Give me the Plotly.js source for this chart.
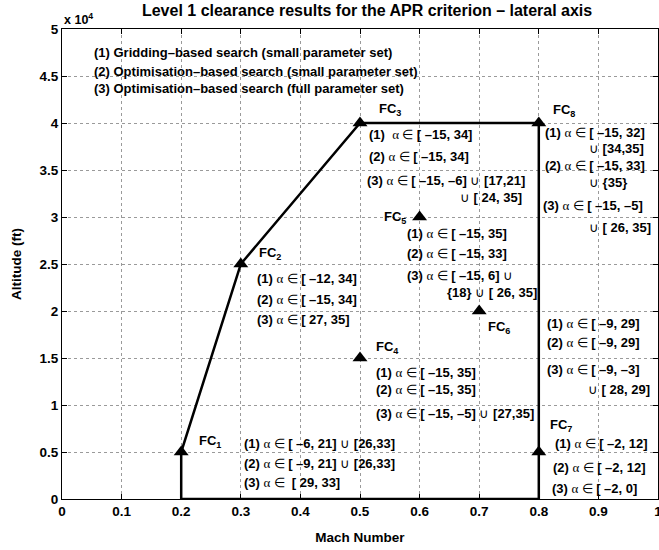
<!DOCTYPE html>
<html>
<head>
<meta charset="utf-8">
<script src="https://cdn.plot.ly/plotly-3.0.1.min.js"></script>
<style>html,body{margin:0;padding:0;background:#fff;}#chart{width:659px;height:550px;}</style>
</head>
<body>
<div id="chart"></div>
<script>
// ---- data ----
const envelopeMach = [0.2, 0.2, 0.3, 0.5, 0.8, 0.8, 0.2];
const envelopeAlt  = [0, 5000, 25000, 40000, 40000, 0, 0];

const fcNames = ['FC1','FC2','FC3','FC4','FC5','FC6','FC7','FC8'];
const fcMach  = [0.2, 0.3, 0.5, 0.5, 0.6, 0.7, 0.8, 0.8];
const fcAlt   = [5000, 25000, 40000, 15000, 30000, 20000, 5000, 40000];

const legendLines = [
  '(1) Gridding\u2013based search (small parameter set)',
  '(2) Optimisation\u2013based search (small parameter set)',
  '(3) Optimisation\u2013based search (full parameter set)'
];

// interval result lines per flight condition ('A' = alpha-in symbol, 'U' = union)
const fc1Lines = ['(1) A [ \u20136, 21] U [26,33]', '(2) A [ \u20139, 21] U [26,33]', '(3) A  [ 29, 33]'];
const fc2Lines = ['(1) A [ \u201312, 34]', '(2) A [ \u201315, 34]', '(3) A [ 27, 35]'];
const fc3Lines = ['(1)  A [ \u201315, 34]', '(2) A [ \u201315, 34]', '(3) A [ \u201315, \u20136] U [17,21]', 'U [ 24, 35]'];
const fc4Lines = ['(1) A [ \u201315, 35]', '(2) A [ \u201315, 35]', '(3) A [ \u201315, \u20135] U [27,35]'];
const fc5Lines = ['(1) A [ \u201315, 35]', '(2) A [ \u201315, 33]', '(3) A [ \u201315, 6] U', '{18} U [ 26, 35]'];
const fc6Lines = ['(1) A [ \u20139, 29]', '(2) A [ \u20139, 29]', '(3) A [ \u20139, \u20133]', 'U [ 28, 29]'];
const fc7Lines = ['(1) A [ \u20132, 12]', '(2) A [ \u20132, 12]', '(3) A [ \u20132, 0]'];
const fc8Lines = ['(1) A [ \u201315, 32]', 'U [34,35]', '(2) A [ \u201315, 33]', 'U {35}', '(3) A [ \u201315, \u20135]', 'U [ 26, 35]'];

const xTicks = [0, 0.1, 0.2, 0.3, 0.4, 0.5, 0.6, 0.7, 0.8, 0.9, 1];
const xTickText = ['0','0.1','0.2','0.3','0.4','0.5','0.6','0.7','0.8','0.9','1'];
const yTicks = [0, 5000, 10000, 15000, 20000, 25000, 30000, 35000, 40000, 45000, 50000];
const yTickText = ['0','0.5','1','1.5','2','2.5','3','3.5','4','4.5','5'];

// ---- formatting helpers ----
const SYM = 'font-weight:normal;font-family:Liberation Serif';
function b(s) { return '<b>' + s + '</b>'; }
function fmt(s) {
  return s.replace('A', '</b><span style="' + SYM + '">\u03b1 \u2208</span><b>')
          .replace(/U/g, '</b><span style="' + SYM + '">\u222a</span><b>');
}
function fcLabel(n) { return b(n.slice(0,2) + '<sub>' + n.slice(2) + '</sub>'); }

const FAM = 'Liberation Sans, Arial, sans-serif';
const FONT = {family: FAM, size: 13, color: '#000'};
const anns = [];
function addText(txt, x, y) {
  anns.push({x: x, y: y, xref: 'x', yref: 'y', text: txt, showarrow: false,
             xanchor: 'left', yanchor: 'middle', font: FONT});
}

// legend block
const legY = [47550, 45530, 43620];
legendLines.forEach((t, i) => addText(b(t), 0.0495, legY[i]));

// FC labels
const fcLabPos = [[0.2257, 6100], [0.328, 26100], [0.5277, 41400], [0.5243, 16100],
                  [0.5377, 29950], [0.7122, 18250], [0.8146, 7800], [0.8213, 41300]];
fcNames.forEach((n, i) => addText(fcLabel(n), fcLabPos[i][0], fcLabPos[i][1]));

// interval blocks: [lines, positions]
const blocks = [
  [fc1Lines, [[0.3012, 5957], [0.3012, 3830], [0.3012, 1809]]],
  [fc2Lines, [[0.323, 23511], [0.323, 21277], [0.323, 19149]]],
  [fc3Lines, [[0.5109, 38830], [0.5109, 36489], [0.5092, 33936], [0.6636, 32128]]],
  [fc4Lines, [[0.5227, 13511], [0.5227, 11702], [0.5227, 9149]]],
  [fc5Lines, [[0.5747, 28298], [0.5747, 26170], [0.5747, 23830], [0.6418, 22021]]],
  [fc6Lines, [[0.8112, 18723], [0.8112, 16702], [0.8112, 13830], [0.88, 11702]]],
  [fc7Lines, [[0.823, 5957], [0.8213, 3404], [0.818, 1170]]],
  [fc8Lines, [[0.8062, 39043], [0.8817, 37340], [0.8062, 35532], [0.8817, 33723], [0.8029, 31277], [0.8817, 28936]]]
];
blocks.forEach(bl => bl[0].forEach((t, i) => addText(b(fmt(t)), bl[1][i][0], bl[1][i][1])));

// x 10^4 multiplier
anns.push({x: 0, y: 1, xref: 'paper', yref: 'paper', xanchor: 'left', yanchor: 'bottom', yshift: 0,
           text: b('x 10<sup>4</sup>'), showarrow: false, font: {family: FAM, size: 12.5, color: '#000'}});

const traces = [
  {x: envelopeMach, y: envelopeAlt, mode: 'lines', line: {color: '#000', width: 2.5}, hoverinfo: 'skip'},
  {x: fcMach, y: fcAlt, mode: 'markers', marker: {symbol: 'triangle-up', size: 13, color: '#000'}, text: fcNames}
];

const axisCommon = {
  showline: true, linecolor: '#000', linewidth: 1, mirror: 'ticks',
  ticks: 'inside', ticklen: 5, tickcolor: '#000', tickwidth: 1,
  showgrid: true, gridcolor: '#9a9a9a', griddash: 'dot', gridwidth: 1,
  zeroline: false, ticklabeloverflow: 'allow',
  tickfont: {family: FAM, size: 13.5, color: '#000'}
};

const layout = {
  width: 659, height: 550,
  margin: {l: 62, r: 1, t: 29, b: 51},
  paper_bgcolor: '#fff', plot_bgcolor: '#fff',
  showlegend: false,
  font: {family: FAM, color: '#000'},
  title: {text: b('Level 1 clearance results for the APR criterion \u2013 lateral axis'),
          font: {family: FAM, size: 16, color: '#000'}, x: 0.557, xanchor: 'center', y: 0.982, yanchor: 'middle'},
  xaxis: Object.assign({}, axisCommon, {range: [0, 1], tickvals: xTicks, ticktext: xTickText.map(b),
          title: {text: b('Mach Number'), font: {family: FAM, size: 13.5}, standoff: 14}}),
  yaxis: Object.assign({}, axisCommon, {range: [0, 50000], tickvals: yTicks, ticktext: yTickText.map(b),
          title: {text: b('Altitude (ft)'), font: {family: FAM, size: 13.5}, standoff: 14}}),
  annotations: anns
};

Plotly.newPlot('chart', traces, layout, {displayModeBar: false, staticPlot: true});
</script>
</body>
</html>
